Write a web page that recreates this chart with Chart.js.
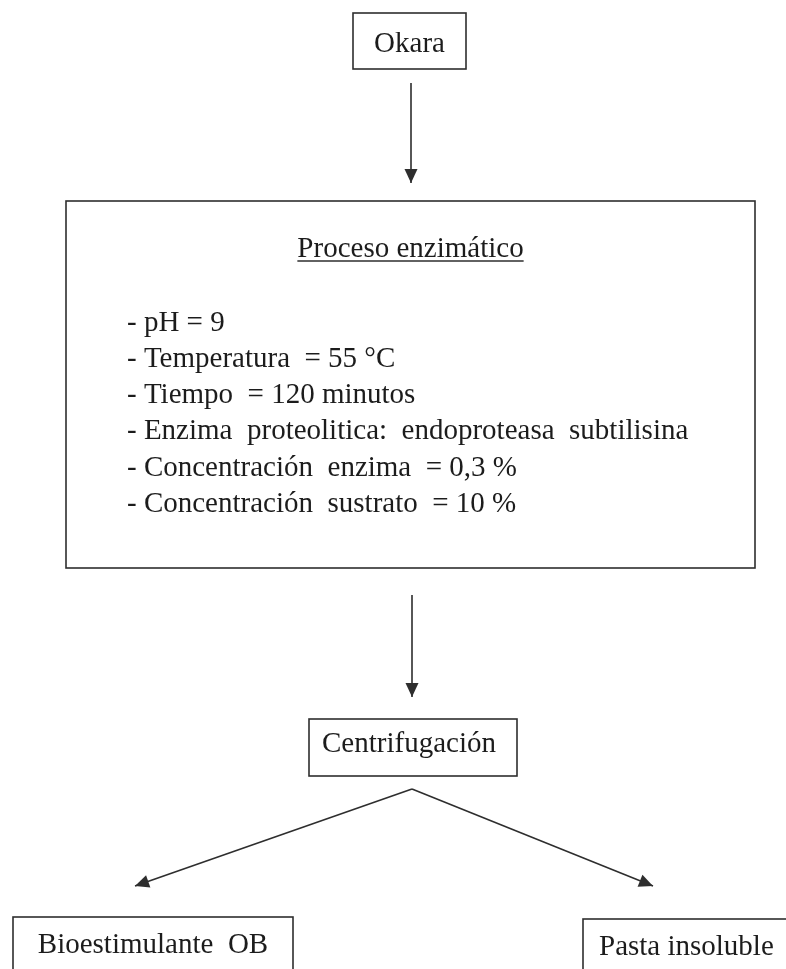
<!DOCTYPE html>
<html>
<head>
<meta charset="utf-8">
<script src="https://cdn.jsdelivr.net/npm/chart.js@4/dist/chart.umd.min.js"></script>
<style>
  html, body { margin: 0; padding: 0; background: #ffffff; }
  #wrap { width: 786px; height: 969px; }
</style>
</head>
<body>
<div id="wrap"><canvas id="c" width="786" height="969"></canvas></div>
<script>
// ---- Content (text) ----
const nodeLabels = ['Okara', 'Centrifugación', 'Bioestimulante  OB', 'Pasta insoluble'];
const processTitle = 'Proceso enzimático';
const processSteps = [
  '- pH = 9',
  '- Temperatura  = 55 °C',
  '- Tiempo  = 120 minutos',
  '- Enzima  proteolitica:  endoproteasa  subtilisina',
  '- Concentración  enzima  = 0,3 %',
  '- Concentración  sustrato  = 10 %'
];

// ---- Layout in data units of the (hidden) x / y scales ----
const nodeBoxX0 = [353, 309, 13, 583];
const nodeBoxX1 = [466, 517, 293, 820];
const nodeBoxY0 = [13, 719, 917, 919];
const nodeBoxY1 = [69, 776, 1010, 1010];
const nodeTextX = [409.5, 409, 153, 599];
const nodeTextY = [52, 752, 953, 955];
const nodeAlign = ['center', 'center', 'center', 'left'];

const procBox = { x0: 66, y0: 201, x1: 755, y1: 568 };
const procTitleY = 257;
const procStepX = 127;
const procStepY = [330.5, 366.8, 403.1, 439.4, 475.7, 512];

// connectors: start (x,y) -> end (x,y), arrowhead at end
const connX0 = [411, 412, 412, 412];
const connY0 = [83, 595, 789, 789];
const connX1 = [411, 412, 135, 653];
const connY1 = [183, 697, 886, 886];

const INK = '#2e2e2e';
const FONT = '29px "Liberation Serif", "Times New Roman", serif';

const datasets = connX0.map((_, i) => ({
  type: 'line',
  data: [{ x: connX0[i], y: connY0[i] }, { x: connX1[i], y: connY1[i] }],
  borderColor: INK,
  borderWidth: 1.6,
  pointRadius: 0,
  fill: false,
  tension: 0
}));

const flowPlugin = {
  id: 'flow',
  beforeDraw(chart) {
    const ctx = chart.ctx;
    ctx.save();
    ctx.fillStyle = '#ffffff';
    ctx.fillRect(0, 0, chart.width, chart.height);
    ctx.restore();
  },
  afterDatasetsDraw(chart) {
    const ctx = chart.ctx;
    const xs = chart.scales.x, ys = chart.scales.y;
    const px = v => xs.getPixelForValue(v);
    const py = v => ys.getPixelForValue(v);
    ctx.save();
    // arrowheads
    ctx.fillStyle = INK;
    for (let i = 0; i < connX0.length; i++) {
      const sx = px(connX0[i]), sy = py(connY0[i]);
      const ex = px(connX1[i]), ey = py(connY1[i]);
      const a = Math.atan2(ey - sy, ex - sx);
      const L = 14, W = 6.5;
      ctx.beginPath();
      ctx.moveTo(ex, ey);
      ctx.lineTo(ex - L * Math.cos(a) + W * Math.sin(a), ey - L * Math.sin(a) - W * Math.cos(a));
      ctx.lineTo(ex - L * Math.cos(a) - W * Math.sin(a), ey - L * Math.sin(a) + W * Math.cos(a));
      ctx.closePath();
      ctx.fill();
    }
    // boxes
    ctx.strokeStyle = INK;
    ctx.lineWidth = 1.6;
    for (let i = 0; i < nodeLabels.length; i++) {
      const x0 = px(nodeBoxX0[i]), x1 = px(nodeBoxX1[i]);
      const y0 = py(nodeBoxY0[i]), y1 = py(nodeBoxY1[i]);
      ctx.strokeRect(x0, y0, x1 - x0, y1 - y0);
    }
    ctx.strokeRect(px(procBox.x0), py(procBox.y0), px(procBox.x1) - px(procBox.x0), py(procBox.y1) - py(procBox.y0));
    // texts
    ctx.fillStyle = '#1c1c1c';
    ctx.font = FONT;
    ctx.textBaseline = 'alphabetic';
    for (let i = 0; i < nodeLabels.length; i++) {
      ctx.textAlign = nodeAlign[i];
      ctx.fillText(nodeLabels[i], px(nodeTextX[i]), py(nodeTextY[i]));
    }
    // process title, underlined
    const cx = (px(procBox.x0) + px(procBox.x1)) / 2;
    ctx.textAlign = 'center';
    ctx.fillText(processTitle, cx, py(procTitleY));
    const tw = ctx.measureText(processTitle).width;
    ctx.lineWidth = 1.3;
    ctx.beginPath();
    ctx.moveTo(cx - tw / 2, py(procTitleY) + 4);
    ctx.lineTo(cx + tw / 2, py(procTitleY) + 4);
    ctx.stroke();
    // steps
    ctx.textAlign = 'left';
    for (let i = 0; i < processSteps.length; i++) {
      ctx.fillText(processSteps[i], px(procStepX), py(procStepY[i]));
    }
    ctx.restore();
  }
};

new Chart(document.getElementById('c'), {
  type: 'scatter',
  data: { datasets },
  options: {
    responsive: false,
    animation: false,
    layout: { padding: 0 },
    plugins: { legend: { display: false }, tooltip: { enabled: false } },
    scales: {
      x: { type: 'linear', min: 0, max: 786, display: false },
      y: { type: 'linear', min: 0, max: 969, reverse: true, display: false }
    }
  },
  plugins: [flowPlugin]
});
</script>
</body>
</html>
